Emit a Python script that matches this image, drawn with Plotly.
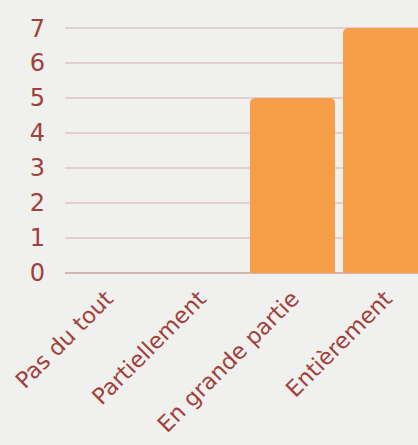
import plotly.graph_objects as go

categories = ["Pas du tout", "Partiellement", "En grande partie", "Entièrement"]
values = [0, 0, 5, 7]
y_ticks = [0, 1, 2, 3, 4, 5, 6, 7]

text_color = "#A0403B"
bar_color = "#F59F4B"
bg = "#F0F0EE"
grid = "#E2CFCF"

fig = go.Figure(go.Bar(
    x=list(range(len(categories))),
    y=values,
    width=0.914,
    marker=dict(color=bar_color, line=dict(width=0), cornerradius=5),
))

fig.update_layout(
    width=418, height=445,
    margin=dict(l=65, r=0, t=26, b=172),
    paper_bgcolor=bg, plot_bgcolor=bg,
    showlegend=False,
    font=dict(family="DejaVu Sans", color=text_color),
)
fig.update_xaxes(
    range=[-0.446, 3.349],
    tickmode="array", tickvals=list(range(len(categories))), ticktext=categories,
    tickangle=-45, tickfont=dict(size=22.5, color=text_color),
    showgrid=False, zeroline=False, showline=False, ticks="",
    ticklabelstandoff=7, automargin=False,
)
fig.update_yaxes(
    range=[0, 7.06],
    tickmode="array", tickvals=y_ticks,
    tickfont=dict(size=24, color=text_color),
    showgrid=True, gridcolor=grid, gridwidth=1.5,
    zeroline=True, zerolinecolor="#D6B5B5", zerolinewidth=1.5,
    showline=False, ticks="", ticklabelstandoff=19, automargin=False,
)

fig.write_html(
    "out.html",
    config={"displayModeBar": False},
    post_script="document.body.style.margin='0';document.body.style.background='" + bg + "';",
)
